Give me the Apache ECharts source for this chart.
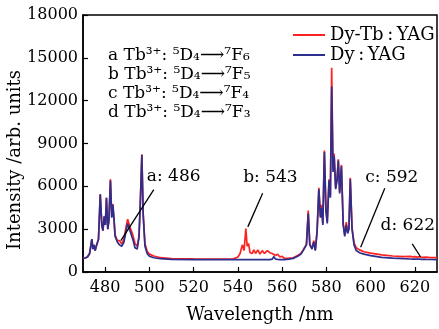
<!DOCTYPE html>
<html>
<head>
<meta charset="utf-8">
<script src="https://cdn.jsdelivr.net/npm/echarts@6/dist/echarts.min.js"></script>
<style>html,body{margin:0;padding:0;background:#fff;}#c{width:439px;height:329px;}</style>
</head>
<body>
<div id="c"></div>
<script>
const wavelengths = [470, 471, 472, 473, 473.5, 474, 474.5, 475, 475.5, 476,
 476.5, 477, 477.8, 478.5, 479, 479.6, 480.1, 480.6, 481.2, 481.7,
 482.4, 483, 483.5, 484, 484.5, 485.5, 486.5, 487.5, 488.5, 489.5,
 490.2, 491, 491.7, 492.5, 493.5, 494.5, 495.3, 495.9, 496.6, 497.2,
 498, 499, 500, 502, 505, 510, 520, 530, 538, 540,
 541, 542, 542.8, 543.6, 544.2, 544.8, 545.5, 546.5, 547.2, 548,
 549, 550, 551, 552, 553.3, 554.5, 555.5, 556.3, 557, 558,
 559, 560, 561, 563, 565, 567, 568.5, 569.5, 570.3, 571,
 571.8, 572.5, 573.5, 574.3, 575, 575.8, 576.6, 577.3, 577.9, 578.4,
 579.1, 579.8, 580.4, 581.2, 581.8, 582.4, 583, 583.5, 584.2, 584.8,
 585.4, 586, 586.8, 587.6, 588.3, 589, 589.6, 590.2, 590.8, 591.6,
 592.5, 593.5, 595, 597, 600, 605, 610, 615, 618, 619,
 620, 621, 622, 623, 625, 627, 630];

const dyYAG = [950, 980, 1050, 1300, 1250, 2300, 1600, 1900, 1500, 1800,
 1700, 2300, 5450, 3300, 2900, 3900, 3300, 5200, 3000, 3600,
 6400, 3800, 4700, 3700, 2500, 2100, 1900, 1800, 2100, 2900,
 3400, 3000, 3100, 2300, 1700, 1600, 2400, 4800, 8200, 4000,
 1800, 1300, 1100, 1000, 930, 890, 870, 860, 860, 860,
 860, 860, 860, 870, 870, 870, 870, 860, 860, 860,
 860, 860, 860, 860, 870, 870, 900, 1080, 900, 880,
 870, 870, 870, 900, 950, 1100, 1250, 1500, 1400, 1900,
 4100, 1900, 1600, 2100, 1500, 2800, 5800, 3800, 4500, 3300,
 8400, 4300, 3400, 6400, 5200, 13000, 7000, 8100, 5800, 6400,
 7800, 5500, 7400, 3300, 2500, 3300, 2700, 3000, 6500, 3000,
 1900, 1500, 1350, 1250, 1150, 1030, 970, 930, 910, 905,
 900, 900, 895, 890, 880, 875, 870];

const dyTbYAG = [950, 980, 1050, 1300, 1250, 2300, 1600, 1900, 1500, 1800,
 1700, 2300, 5450, 3300, 2900, 3900, 3300, 5200, 3000, 3600,
 6500, 3850, 4750, 3750, 2600, 2200, 2200, 1950, 2300, 3200,
 3700, 3250, 3250, 2600, 2000, 1800, 2500, 4850, 8250, 4100,
 2000, 1450, 1250, 1120, 1000, 940, 920, 910, 920, 1050,
 1300, 1900, 1500, 3050, 1800, 2000, 1350, 1300, 1550, 1300,
 1550, 1250, 1500, 1300, 1500, 1350, 1300, 1400, 1150, 1250,
 1050, 1100, 960, 970, 1000, 1150, 1300, 1550, 1450, 1950,
 4300, 1950, 1650, 2200, 1550, 2850, 5900, 3900, 4700, 3400,
 8500, 4400, 3500, 6500, 5300, 14300, 7200, 8300, 5900, 6500,
 7900, 5600, 7500, 3400, 2600, 3500, 2800, 3100, 6600, 3100,
 2050, 1700, 1550, 1420, 1320, 1200, 1120, 1070, 1090, 1050,
 1080, 1040, 1070, 1030, 1040, 1010, 1000];

const xTicks = [480, 500, 520, 540, 560, 580, 600, 620];
const seriesNames = ['Dy-Tb\u2009:\u2009YAG', 'Dy\u2009:\u2009YAG'];

const annLabels = ['a: 486', 'b: 543', 'c: 592', 'd: 622'];
const annTextAt = [[511, 6660], [554.7, 6600], [609.6, 6600], [616.8, 3230]];
const annLineFrom = [[487.1, 2200], [544.5, 3160], [595.5, 1740], [618.8, 1970]];
const annLineTo = [[502, 5770], [551.2, 5520], [606.4, 5860], [622.6, 1050]];

const transitions = [
  'a Tb³⁺: ⁵D₄⟶⁷F₆',
  'b Tb³⁺: ⁵D₄⟶⁷F₅',
  'c Tb³⁺: ⁵D₄⟶⁷F₄',
  'd Tb³⁺: ⁵D₄⟶⁷F₃'
];

const FONT = 'DejaVu Serif';
const chart = echarts.init(document.getElementById('c'), null, {renderer: 'canvas'});

const pairs = (ys) => wavelengths.map((x, i) => [x, ys[i]]);

chart.setOption({
  animation: false,
  backgroundColor: '#fff',
  grid: {left: 83, right: 2, top: 15, bottom: 52, show: true, borderColor: '#000', borderWidth: 1.5},
  xAxis: {
    type: 'value', min: 470, max: 630,
    axisLine: {lineStyle: {color: '#000', width: 1.5}},
    axisTick: {inside: true, length: 5, customValues: xTicks, lineStyle: {color: '#000', width: 1.2}},
    axisLabel: {customValues: xTicks, fontFamily: FONT, fontSize: 16, color: '#000', margin: 8},
    splitLine: {show: false},
    name: 'Wavelength /nm', nameLocation: 'middle', nameGap: 34,
    nameTextStyle: {fontFamily: FONT, fontSize: 18, color: '#000'}
  },
  yAxis: {
    type: 'value', min: 0, max: 18000, interval: 3000,
    axisLine: {show: true, lineStyle: {color: '#000', width: 1.5}},
    axisTick: {show: true, inside: true, length: 5, lineStyle: {color: '#000', width: 1.2}},
    axisLabel: {fontFamily: FONT, fontSize: 16, color: '#000', margin: 5, formatter: (v) => String(v)},
    splitLine: {show: false}
  },
  legend: {
    orient: 'vertical', left: 288, top: 20, itemWidth: 32, itemHeight: 2, itemGap: 0,
    icon: 'rect',
    textStyle: {fontFamily: FONT, fontSize: 18, lineHeight: 20, color: '#000'},
    data: seriesNames
  },
  series: [
    {name: seriesNames[0], type: 'line', symbol: 'none', data: pairs(dyTbYAG),
     lineStyle: {color: '#ff2222', width: 1.7}, itemStyle: {color: '#ff2222'}},
    {name: seriesNames[1], type: 'line', symbol: 'none', data: pairs(dyYAG),
     lineStyle: {color: '#2c2f8e', width: 1.7}, itemStyle: {color: '#2c2f8e'}}
  ]
});

const px = (p) => chart.convertToPixel({gridIndex: 0}, p);
const graphics = [];
annLabels.forEach((t, i) => {
  const a = px(annLineFrom[i]), b = px(annLineTo[i]), c = px(annTextAt[i]);
  graphics.push({type: 'line', shape: {x1: a[0], y1: a[1], x2: b[0], y2: b[1]},
    style: {stroke: '#000', lineWidth: 1.3}, z: 100});
  graphics.push({type: 'text', x: c[0], y: c[1], z: 100,
    style: {text: t, fontFamily: FONT, fontSize: 17, fill: '#000', textAlign: 'center', textVerticalAlign: 'middle'}});
});
transitions.forEach((t, i) => {
  graphics.push({type: 'text', x: 108, y: 56 + i * 18.7, z: 100,
    style: {text: t, fontFamily: FONT, fontSize: 17, fill: '#000', textAlign: 'left', textVerticalAlign: 'middle'}});
});
graphics.push({type: 'text', x: 15, y: 160, rotation: Math.PI / 2, z: 100,
  style: {text: 'Intensity /arb. units', fontFamily: FONT, fontSize: 18, fill: '#000', textAlign: 'center', textVerticalAlign: 'middle'}});
chart.setOption({graphic: graphics});
</script>
</body>
</html>
